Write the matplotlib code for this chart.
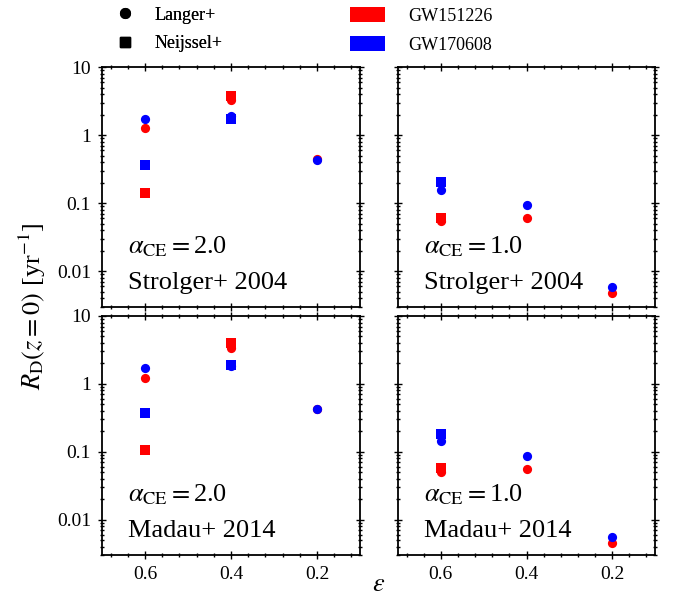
import numpy as np
import matplotlib
matplotlib.use("Agg")
import matplotlib.pyplot as plt
from matplotlib.lines import Line2D
from matplotlib.patches import Patch
from matplotlib.ticker import FixedLocator, AutoMinorLocator, LogLocator, FuncFormatter, NullFormatter

plt.rcParams["font.family"] = ["Liberation Serif", "DejaVu Serif"]
plt.rcParams["mathtext.fontset"] = "stix"

nan = np.nan

# efficiency parameter on the x axis
eps = [0.6, 0.4, 0.2]

# merger rates R_D(z=0) [1/yr], one block per panel
# alpha_CE = 2.0, Strolger+ 2004
tl_langer_151226 = [1.27, 3.3, 0.45]
tl_langer_170608 = [1.74, 1.9, 0.43]
tl_neijssel_151226 = [0.14, 3.78, nan]
tl_neijssel_170608 = [0.36, 1.72, nan]

# alpha_CE = 1.0, Strolger+ 2004
tr_langer_151226 = [0.055, 0.061, 0.0048]
tr_langer_170608 = [0.157, 0.093, 0.0059]
tr_neijssel_151226 = [0.061, nan, nan]
tr_neijssel_170608 = [0.204, nan, nan]

# alpha_CE = 2.0, Madau+ 2014
bl_langer_151226 = [1.21, 3.4, 0.43]
bl_langer_170608 = [1.71, 1.85, 0.42]
bl_neijssel_151226 = [0.107, 3.95, nan]
bl_neijssel_170608 = [0.37, 1.9, nan]

# alpha_CE = 1.0, Madau+ 2014
br_langer_151226 = [0.0495, 0.056, 0.0045]
br_langer_170608 = [0.146, 0.085, 0.0055]
br_neijssel_151226 = [0.057, nan, nan]
br_neijssel_170608 = [0.185, nan, nan]

alpha_labels = ["2.0", "1.0", "2.0", "1.0"]
sfr_labels = ["Strolger+ 2004", "Strolger+ 2004", "Madau+ 2014", "Madau+ 2014"]
x_ticks = [0.6, 0.4, 0.2]

panels = [
    (tl_langer_151226, tl_langer_170608, tl_neijssel_151226, tl_neijssel_170608),
    (tr_langer_151226, tr_langer_170608, tr_neijssel_151226, tr_neijssel_170608),
    (bl_langer_151226, bl_langer_170608, bl_neijssel_151226, bl_neijssel_170608),
    (br_langer_151226, br_langer_170608, br_neijssel_151226, br_neijssel_170608),
]

RED = "#ff0000"
BLUE = "#0000ff"

W, H = 674, 606
fig = plt.figure(figsize=(W / 100, H / 100), dpi=100)

cols = [(102, 360), (398, 655)]
rows = [(67, 307), (316, 555)]

axes = []
for r, (y0, y1) in enumerate(rows):
    for c, (x0, x1) in enumerate(cols):
        ax = fig.add_axes([x0 / W, 1 - y1 / H, (x1 - x0) / W, (y1 - y0) / H])
        axes.append((ax, r, c))

fmt = FuncFormatter(lambda v, p: "{:g}".format(v))

for i, (ax, r, c) in enumerate(axes):
    l151, l170, n151, n170 = panels[i]
    ms = 44
    ax.scatter(eps, l151, s=ms, marker="o", color=RED, linewidths=0, zorder=3)
    ax.scatter(eps, n151, s=ms, marker="s", color=RED, linewidths=0, zorder=3)
    ax.scatter(eps, l170, s=ms, marker="o", color=BLUE, linewidths=0, zorder=4)
    ax.scatter(eps, n170, s=ms, marker="s", color=BLUE, linewidths=0, zorder=4)

    ax.set_yscale("log")
    ax.set_ylim(0.003, 10)
    ax.set_xlim(0.7, 0.1)

    ax.xaxis.set_major_locator(FixedLocator(x_ticks))
    ax.xaxis.set_minor_locator(AutoMinorLocator(5))
    ax.yaxis.set_major_locator(LogLocator(base=10, numticks=10))
    ax.yaxis.set_minor_locator(LogLocator(base=10, subs=np.arange(2, 10), numticks=10))
    ax.yaxis.set_minor_formatter(NullFormatter())
    ax.yaxis.set_major_formatter(fmt)
    ax.xaxis.set_major_formatter(FuncFormatter(lambda v, p: "{:.1f}".format(v)))

    ax.tick_params(which="both", direction="inout", top=True, right=True,
                   width=1.0, labelsize=14, pad=5)
    ax.tick_params(which="major", length=6)
    ax.tick_params(which="minor", length=3.5)
    if r == 0:
        ax.tick_params(labelbottom=False)
    if c == 1:
        ax.tick_params(labelleft=False)
    for sp in ax.spines.values():
        sp.set_linewidth(1.3)

    ax.text(0.1, 0.225, r"$\alpha_{\rm CE} = $" + alpha_labels[i], transform=ax.transAxes,
            fontsize=19, ha="left", va="baseline")
    ax.text(0.1, 0.075, sfr_labels[i], transform=ax.transAxes,
            fontsize=19, ha="left", va="baseline")

fig.text(32 / W, 1 - 306 / H, r"$R_{\rm D}(z=0)$ [yr$^{-1}$]", rotation=90,
         ha="center", va="center", fontsize=19)
fig.text(379 / W, 1 - 585 / H, r"$\varepsilon$", ha="center", va="center", fontsize=19)

model_handles = [
    Line2D([], [], marker="o", color="black", linestyle="none", markersize=7),
    Line2D([], [], marker="s", color="black", linestyle="none", markersize=6.5),
]
model_labels = ["Langer+", "Neijssel+"]
event_handles = [Patch(facecolor=RED, edgecolor="none"), Patch(facecolor=BLUE, edgecolor="none")]
event_labels = ["GW151226", "GW170608"]

top = 1 - 4 / H
leg1 = fig.legend(model_handles, model_labels, loc="upper left",
                  bbox_to_anchor=(105 / W, top), frameon=False, fontsize=13,
                  handlelength=1.95, handletextpad=0.64, labelspacing=0.62,
                  borderaxespad=0, borderpad=0.15)
leg2 = fig.legend(event_handles, event_labels, loc="upper left",
                  bbox_to_anchor=(347 / W, top), frameon=False, fontsize=13,
                  handlelength=1.95, handleheight=0.95, handletextpad=1.3,
                  labelspacing=0.62, borderaxespad=0, borderpad=0.15)
fig.add_artist(leg1)

fig.savefig("out.png", dpi=100)
